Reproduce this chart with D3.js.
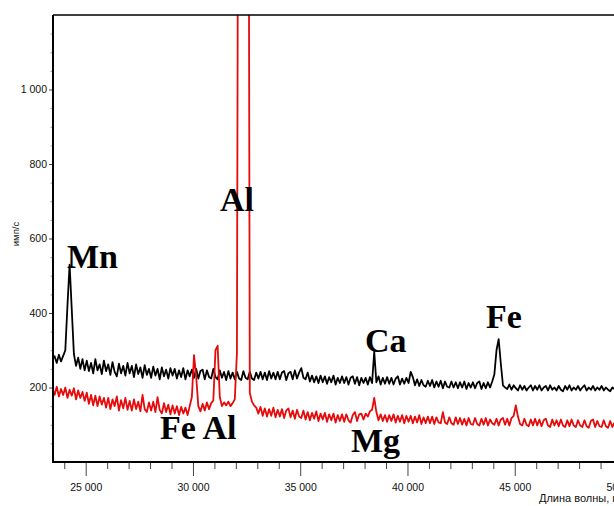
<!DOCTYPE html>
<html>
<head>
<meta charset="utf-8">
<script src="https://cdn.jsdelivr.net/npm/d3@7"></script>
<style>
  body { margin: 0; background: #fff; }
  svg { display: block; }
  .tick text { font-family: 'Liberation Sans', Arial, sans-serif; font-size: 10.5px; fill: #111; }
  .peak-label { font-family: 'Liberation Serif', 'Times New Roman', serif; font-weight: bold; font-size: 34px; fill: #000; }
  .axis-title { font-family: 'Liberation Sans', Arial, sans-serif; fill: #111; }
</style>
</head>
<body>
<svg id="chart" width="614" height="506"></svg>
<script>
// spectrum sampled every 100 units starting at 23 450
const waveStart = 23450
const waveStep = 100

const blackCounts = [
  276, 284, 266, 288, 270, 285,
  300, 420, 530, 410, 290, 258, 280, 250, 276, 246,
  272, 244, 266, 238, 276, 246, 262, 236, 272, 244,
  262, 234, 268, 242, 230, 264, 238, 258, 232, 266,
  238, 258, 228, 262, 236, 254, 226, 260, 234, 250,
  226, 256, 232, 250, 222, 254, 230, 248, 224, 252,
  232, 250, 224, 246, 228, 252, 222, 246, 230, 248,
  226, 250, 224, 244, 248, 222, 246, 228, 224, 250,
  228, 222, 246, 226, 242, 220, 244, 224, 240, 222,
  242, 224, 220, 244, 226, 222, 242, 224, 220, 240,
  224, 242, 222, 240, 220, 244, 224, 240, 222, 242,
  222, 240, 244, 220, 238, 242, 222, 246, 224, 240,
  252, 226, 222, 240, 216, 232, 214, 230, 212, 232,
  214, 230, 210, 228, 214, 232, 208, 226, 212, 230,
  212, 228, 208, 226, 230, 210, 228, 206, 226, 212,
  226, 208, 228, 212, 296, 214, 230, 208, 226, 210,
  228, 210, 226, 208, 224, 230, 208, 224, 210, 226,
  212, 242, 228, 206, 222, 204, 220, 206, 202, 218,
  204, 220, 200, 216, 202, 218, 198, 216, 202, 200,
  216, 200, 214, 198, 214, 200, 216, 196, 212, 200,
  214, 198, 212, 216, 196, 212, 198, 214, 200, 216,
  235, 300, 330, 265, 206, 200, 196, 208, 194, 206,
  198, 192, 206, 194, 204, 192, 200, 206, 192, 204,
  194, 206, 192, 200, 204, 192, 206, 194, 200, 192,
  204, 194, 190, 204, 194, 206, 192, 200, 194, 204,
  192, 200, 206, 192, 200, 194, 204, 192, 200, 194,
  204, 192, 200, 194, 190, 200, 196
]

const redCounts = [
  198, 180, 202, 176, 196, 180,
  200, 172, 194, 178, 198, 168, 192, 172, 188, 164,
  186, 156, 180, 152, 178, 150, 176, 154, 172, 146,
  172, 142, 168, 150, 176, 138, 166, 144, 172, 140,
  164, 138, 168, 142, 162, 136, 180, 142, 134, 160,
  138, 162, 134, 174, 140, 130, 158, 134, 154, 128,
  152, 130, 150, 126, 148, 130, 146, 126, 150, 175,
  287, 230, 150, 136, 156, 138, 160, 142, 158, 165,
  300, 312, 175, 150, 160, 152, 162, 150, 158, 168,
  293, 2800, 3000, 3100, 3050, 2950, 185, 162, 152, 146,
  130, 148, 124, 144, 122, 142, 124, 146, 120, 140,
  122, 142, 118, 138, 144, 120, 138, 116, 140, 122,
  118, 138, 114, 134, 112, 132, 116, 136, 110, 130,
  114, 132, 108, 128, 112, 130, 106, 126, 110, 128,
  108, 128, 112, 106, 126, 134, 110, 128, 130, 114,
  130, 122, 136, 140, 172, 134, 112, 128, 110, 126,
  108, 126, 110, 128, 106, 124, 108, 126, 104, 124,
  108, 124, 104, 122, 106, 126, 102, 120, 104, 122,
  104, 122, 102, 120, 106, 104, 134, 106, 102, 120,
  104, 100, 120, 102, 118, 100, 116, 98, 118, 102,
  100, 118, 102, 98, 116, 100, 118, 98, 114, 104,
  100, 116, 98, 114, 118, 100, 116, 98, 118, 124,
  152, 122, 102, 98, 116, 100, 96, 114, 98, 116,
  98, 114, 96, 112, 116, 98, 94, 114, 98, 112,
  96, 114, 98, 94, 112, 96, 114, 98, 94, 112,
  98, 94, 112, 96, 92, 110, 114, 94, 110, 96,
  94, 112, 96, 92, 110, 94, 106
]

const xMajorTicks = [25000, 30000, 35000, 40000, 45000, 50000]
const yMajorTicks = [200, 400, 600, 800, 1000]

const peakNames = ['Mn', 'Al', 'Ca', 'Fe', 'Fe Al', 'Mg']
const peakWaves = [24128, 31260, 38019, 43658, 28463, 37366]
const peakCounts = [521, 674, 295, 360, 62, 27]

const waves = blackCounts.map((d, i) => waveStart + i * waveStep)

const svg = d3.select('#chart')
const x = d3.scaleLinear().domain([23476, 50000]).range([53, 622])
const y = d3.scaleLinear().domain([0, 1200]).range([462, 15])

const fmt = d3.formatLocale({decimal: ',', thousands: ' ', grouping: [3], currency: ['', '']}).format(',d')

svg.append('defs').append('clipPath')
  .attr('id', 'plot')
  .append('rect')
  .attr('x', 53).attr('y', 15)
  .attr('width', 600).attr('height', 447)

const line = d3.line()
  .x((d, i) => x(waves[i]))
  .y(d => y(d))

const plot = svg.append('g').attr('clip-path', 'url(#plot)')

plot.append('path')
  .datum(blackCounts)
  .attr('fill', 'none')
  .attr('stroke', '#000')
  .attr('stroke-width', 1.8)
  .attr('stroke-linejoin', 'round')
  .attr('d', line)

plot.append('path')
  .datum(redCounts)
  .attr('fill', 'none')
  .attr('stroke', '#e60a0a')
  .attr('stroke-width', 1.8)
  .attr('stroke-linejoin', 'round')
  .attr('d', line)

// x axis: minor ticks, then labelled ones
const xMinor = svg.append('g')
  .attr('transform', 'translate(0,' + y(0) + ')')
  .call(d3.axisBottom(x).tickValues(d3.range(24000, 50001, 1000).filter(v => v % 5000)).tickSize(7).tickFormat(''))
xMinor.select('.domain').remove()
xMinor.selectAll('line').attr('stroke', '#444')

const xMajor = svg.append('g')
  .attr('transform', 'translate(0,' + y(0) + ')')
  .call(d3.axisBottom(x).tickValues(xMajorTicks).tickSize(14).tickPadding(7.5).tickFormat(fmt))
xMajor.select('.domain').remove()
xMajor.selectAll('line').attr('stroke', '#444')

// y axis
const yMinor = svg.append('g')
  .attr('transform', 'translate(' + x.range()[0] + ',0)')
  .call(d3.axisLeft(y).tickValues(d3.range(50, 1200, 50).filter(v => !yMajorTicks.includes(v))).tickSize(2.5).tickFormat(''))
yMinor.select('.domain').remove()
yMinor.selectAll('line').attr('stroke', '#999')

const yMajor = svg.append('g')
  .attr('transform', 'translate(' + x.range()[0] + ',0)')
  .call(d3.axisLeft(y).tickValues(yMajorTicks).tickSize(4).tickPadding(2).tickFormat(fmt))
yMajor.select('.domain').remove()
yMajor.selectAll('line').attr('stroke', '#444')

// frame
svg.append('line')
  .attr('x1', 53).attr('x2', 622)
  .attr('y1', y(1200)).attr('y2', y(1200))
  .attr('stroke', '#000').attr('stroke-width', 1.3)
svg.append('line')
  .attr('x1', 53).attr('x2', 53)
  .attr('y1', y(1200)).attr('y2', y(0) + 1)
  .attr('stroke', '#000').attr('stroke-width', 2)
svg.append('line')
  .attr('x1', 52).attr('x2', 622)
  .attr('y1', y(0)).attr('y2', y(0))
  .attr('stroke', '#000').attr('stroke-width', 2)

// element labels
svg.append('g')
  .selectAll('text')
  .data(peakNames)
  .enter().append('text')
  .attr('class', 'peak-label')
  .attr('x', (d, i) => x(peakWaves[i]))
  .attr('y', (d, i) => y(peakCounts[i]))
  .text(d => d)

svg.append('text')
  .attr('class', 'axis-title')
  .attr('transform', 'translate(19,234) rotate(-90)')
  .attr('text-anchor', 'middle')
  .style('font-size', '9.5px')
  .text('имп/с')

svg.append('text')
  .attr('class', 'axis-title')
  .attr('x', 539).attr('y', 502)
  .style('font-size', '11px')
  .text('Длина волны, нм')
</script>
</body>
</html>
